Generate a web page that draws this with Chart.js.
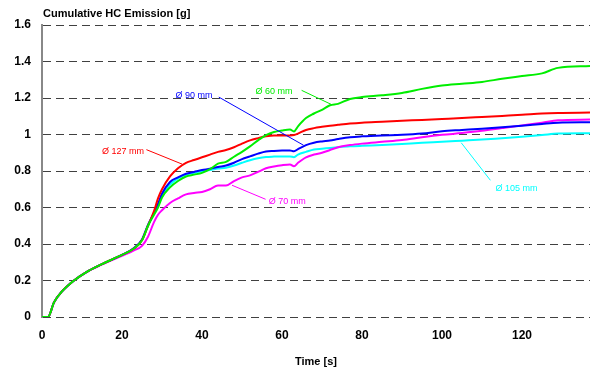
<!DOCTYPE html>
<html>
<head>
<meta charset="utf-8">
<style>
  html, body { margin: 0; padding: 0; background: #fff; }
  canvas { display: block; }
</style>
<script src="https://cdn.jsdelivr.net/npm/chart.js@4/dist/chart.umd.min.js"></script>
</head>
<body>
<canvas id="hc" width="590" height="372"></canvas>
<script>
// time axis [s]
var time = [0, 1.5, 3, 5, 8, 11, 15, 20, 23, 25, 26.5, 28, 29, 30, 32, 34, 36, 38, 40, 42,
            44, 46, 48, 50, 52, 54, 56, 58, 60, 62, 63, 64, 66, 68, 70, 72, 74, 77, 80, 85,
            90, 95, 100, 105, 110, 115, 120, 125, 129, 137];

// cumulative HC [g] per pipe diameter
var d60 = [0, 0, 0.08, 0.14, 0.2, 0.245, 0.29, 0.34, 0.375, 0.42, 0.5, 0.56, 0.6, 0.655, 0.71, 0.745, 0.77, 0.78, 0.79, 0.81,
           0.84, 0.85, 0.878, 0.905, 0.935, 0.968, 0.997, 1.014, 1.022, 1.027, 1.017, 1.045, 1.09, 1.115, 1.135, 1.16, 1.168, 1.195, 1.205, 1.215,
           1.228, 1.25, 1.268, 1.278, 1.288, 1.305, 1.32, 1.335, 1.365, 1.375];
var d127 = [0, 0, 0.08, 0.14, 0.2, 0.245, 0.29, 0.34, 0.375, 0.42, 0.5, 0.58, 0.65, 0.7, 0.77, 0.815, 0.845, 0.86, 0.875, 0.89,
            0.905, 0.915, 0.93, 0.95, 0.968, 0.98, 0.99, 0.995, 0.995, 0.995, 0.997, 1.005, 1.025, 1.035, 1.042, 1.048, 1.053, 1.06, 1.065, 1.07,
            1.075, 1.08, 1.085, 1.09, 1.096, 1.102, 1.108, 1.115, 1.118, 1.12];
var d90 = [0, 0, 0.08, 0.14, 0.2, 0.245, 0.29, 0.34, 0.378, 0.425, 0.505, 0.57, 0.62, 0.675, 0.74, 0.765, 0.785, 0.795, 0.805, 0.812,
           0.822, 0.83, 0.845, 0.865, 0.88, 0.895, 0.907, 0.91, 0.912, 0.913, 0.908, 0.92, 0.942, 0.955, 0.962, 0.967, 0.975, 0.985, 0.99, 0.995,
           0.998, 1.005, 1.018, 1.025, 1.032, 1.04, 1.048, 1.058, 1.065, 1.067];
var d105 = [0, 0, 0.08, 0.14, 0.2, 0.245, 0.29, 0.34, 0.376, 0.422, 0.5, 0.57, 0.61, 0.66, 0.725, 0.76, 0.78, 0.79, 0.8, 0.805,
            0.813, 0.818, 0.83, 0.845, 0.859, 0.87, 0.877, 0.879, 0.88, 0.88, 0.876, 0.89, 0.905, 0.918, 0.922, 0.926, 0.93, 0.935, 0.938, 0.942,
            0.948, 0.955, 0.96, 0.966, 0.972, 0.98, 0.988, 0.997, 1.005, 1.007];
var d70 = [0, 0, 0.08, 0.14, 0.2, 0.245, 0.288, 0.335, 0.365, 0.39, 0.44, 0.52, 0.56, 0.585, 0.625, 0.65, 0.672, 0.68, 0.685, 0.7,
           0.72, 0.72, 0.745, 0.765, 0.776, 0.795, 0.815, 0.825, 0.832, 0.836, 0.826, 0.845, 0.875, 0.89, 0.9, 0.915, 0.93, 0.942, 0.95, 0.96,
           0.97, 0.985, 0.998, 1.008, 1.02, 1.035, 1.05, 1.065, 1.078, 1.082];

var yTicks = [0, 0.2, 0.4, 0.6, 0.8, 1, 1.2, 1.4, 1.6];

// in-plot labels with leader lines, anchored in data units
var notes = [
  { text: 'Ø 60 mm',  color: '#00ee00', at: [53.4, 1.237], from: [64.9, 1.242], to: [72.5, 1.163] },
  { text: 'Ø 127 mm', color: '#ff0000', at: [15.0, 0.908], from: [26.1, 0.917], to: [35.0, 0.838] },
  { text: 'Ø 90 mm',  color: '#0000ff', at: [33.4, 1.215], from: [44.2, 1.205], to: [65.4, 0.941] },
  { text: 'Ø 105 mm', color: '#00ffff', at: [113.4, 0.704], from: [104.8, 0.955], to: [112.1, 0.749] },
  { text: 'Ø 70 mm',  color: '#ff00ff', at: [56.7, 0.634], from: [47.5, 0.722], to: [55.9, 0.645] }
];

function pts(arr) {
  return time.map(function (t, i) { return { x: t, y: arr[i] }; });
}

function series(data, color) {
  return {
    data: pts(data),
    borderColor: color,
    borderWidth: 2,
    pointRadius: 0,
    fill: false,
    cubicInterpolationMode: 'monotone'
  };
}

var notesPlugin = {
  id: 'notes',
  afterDatasetsDraw: function (chart) {
    var ctx = chart.ctx, xs = chart.scales.x, ys = chart.scales.y;
    ctx.save();
    ctx.font = '9px "Liberation Sans", Arial, sans-serif';
    ctx.textBaseline = 'middle';
    ctx.lineWidth = 1;
    notes.forEach(function (n) {
      ctx.strokeStyle = n.color;
      ctx.beginPath();
      ctx.moveTo(xs.getPixelForValue(n.from[0]), ys.getPixelForValue(n.from[1]));
      ctx.lineTo(xs.getPixelForValue(n.to[0]), ys.getPixelForValue(n.to[1]));
      ctx.stroke();
      ctx.fillStyle = n.color;
      ctx.fillText(n.text, xs.getPixelForValue(n.at[0]), ys.getPixelForValue(n.at[1]));
    });
    // y axis caption above the plot
    ctx.fillStyle = '#000';
    ctx.font = 'bold 11px "Liberation Sans", Arial, sans-serif';
    ctx.textBaseline = 'middle';
    ctx.fillText('Cumulative HC Emission [g]', chart.chartArea.left + 1, 14);
    ctx.restore();
  }
};

new Chart(document.getElementById('hc'), {
  type: 'line',
  data: {
    datasets: [
      series(d60, '#00ee00'),
      series(d127, '#ff0000'),
      series(d90, '#0000ff'),
      series(d70, '#ff00ff'),
      series(d105, '#00ffff')
    ]
  },
  options: {
    responsive: false,
    animation: false,
    layout: { padding: { top: 25, right: 0, left: 0, bottom: 0 } },
    plugins: { legend: { display: false }, tooltip: { enabled: false } },
    scales: {
      x: {
        type: 'linear',
        min: 0,
        max: 137,
        grid: { display: false },
        border: { display: false },
        ticks: {
          stepSize: 20,
          includeBounds: false,
          maxRotation: 0,
          padding: 3,
          color: '#000',
          font: { family: '"Liberation Sans", Arial', size: 12, weight: 'bold' }
        },
        title: {
          display: true,
          text: 'Time [s]',
          color: '#000',
          padding: { top: 8, bottom: 3 },
          font: { family: '"Liberation Sans", Arial', size: 11, weight: 'bold' }
        },
        afterFit: function (s) { s.height = 55; }
      },
      y: {
        min: 0,
        max: 1.6,
        afterBuildTicks: function (s) { s.ticks = yTicks.map(function (v) { return { value: v }; }); },
        grid: { color: '#404040', lineWidth: 1, drawTicks: false },
        border: { display: true, color: '#888888', width: 2, dash: [8, 5] },
        ticks: {
          padding: 11,
          color: '#000',
          font: { family: '"Liberation Sans", Arial', size: 12, weight: 'bold' },
          callback: function (v) { return String(+v.toFixed(1)); }
        },
        afterFit: function (s) { s.width = 42; }
      }
    }
  },
  plugins: [notesPlugin]
});
</script>
</body>
</html>
